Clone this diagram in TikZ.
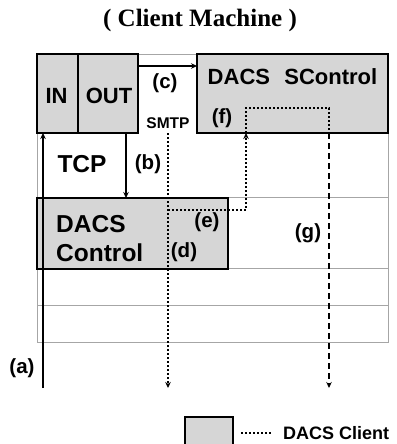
\documentclass[tikz,border=0pt]{standalone}
\usepackage{fontspec}
\setmainfont{Liberation Sans}
\newfontfamily\titlefont{Liberation Serif}
\usetikzlibrary{arrows.meta}
\begin{document}
\begin{tikzpicture}[x=1pt,y=-1pt,
  box/.style={draw=black,line width=2.2pt,fill=black!16,inner sep=0pt,outer sep=0pt},
  lbl/.style={font=\bfseries\fontsize{20.5}{20.5}\selectfont,inner sep=0pt},
  big/.style={font=\bfseries\fontsize{22}{22}\selectfont,inner sep=0pt},
  bigger/.style={font=\bfseries\fontsize{24.5}{24.5}\selectfont,inner sep=0pt},
  grid/.style={draw=black!35,line width=0.8pt},
  tip/.style={-{Stealth[length=6pt,width=5.5pt]}},
  arr/.style={line width=1.9pt,tip},
  dotline/.style={line width=2pt,dash pattern=on 2pt off 2pt},
  dashline/.style={line width=2pt,dash pattern=on 6pt off 4pt}]
\useasboundingbox (0,0) rectangle (396,444);
% background frame
\draw[grid] (37,54) rectangle (388,342);
\draw[grid] (37,197) -- (388,197);
\draw[grid] (37,268) -- (388,268);
\draw[grid] (37,305) -- (388,305);
% title
\node[font=\titlefont\bfseries\fontsize{25}{25}\selectfont,inner sep=0pt] (title) at (200,20) {( Client Machine )};
% boxes
\node[box,minimum width=41pt,minimum height=79pt] (IN) at (57.5,93.5) {};
\node[box,minimum width=60pt,minimum height=79pt] (OUT) at (108,93.5) {};
\node[box,minimum width=191pt,minimum height=79pt] (SC) at (292.5,93.5) {};
\node[box,minimum width=191pt,minimum height=71pt] (DC) at (132.5,233.5) {};
\node[box,minimum width=48pt,minimum height=34pt] (leg) at (209,434) {};
% box texts
\node[big] (tIN) at (56.5,96) {IN};
\node[big] (tOUT) at (109,96) {OUT};
\node[big] (tSC) at (292.5,77) {DACS\hspace{0.65em}SControl};
\node[bigger] (tTCP) at (82,164) {TCP};
\node[bigger,anchor=west] (tD1) at (56,224) {DACS};
\node[bigger,anchor=west] (tD2) at (56,253) {Control};
\node[font=\bfseries\fontsize{15.5}{15.5}\selectfont,inner sep=0pt] (smtp) at (168,123) {SMTP};
% labels
\node[lbl] (la) at (22,368) {(a)};
\node[lbl] (lb) at (148,164) {(b)};
\node[lbl] (lc) at (165,83) {(c)};
\node[lbl] (ld) at (184,252) {(d)};
\node[lbl] (le) at (207,222) {(e)};
\node[lbl] (lf) at (222,118) {(f)};
\node[lbl] (lg) at (308,233) {(g)};
% coordinates
\coordinate (a0) at (43,388);
\coordinate (d1) at (168,388);
\coordinate (e0) at (168,210);
\coordinate (e1) at (246,210);
\coordinate (f1) at (246,108);
\coordinate (f2) at (329,108);
\coordinate (g1) at (329,388);
% connectors
\draw[arr] (a0) -- (a0 |- IN.south);
\draw[arr] (OUT.south -| 126,0) -- (DC.north -| 126,0);
\draw[arr] (OUT.east |- 0,66) -- (SC.west |- 0,66);
\draw[dotline,tip] (SC.south -| e0) -- (d1);
\draw[dotline,tip] (e0) -- (e1) -- (SC.south -| e1);
\draw[dotline] (SC.south -| e1) -- (f1) -- (f2) -- (SC.south -| f2);
\draw[dashline,tip] (SC.south -| f2) -- (g1);
% legend
\coordinate (l0) at (241,433);
\coordinate (l1) at (271,433);
\draw[dotline] (l0) -- (l1);
\node[font=\bfseries\fontsize{18}{18}\selectfont,inner sep=0pt,anchor=west] (legt) at (283,433) {DACS Client};
\end{tikzpicture}
\end{document}
